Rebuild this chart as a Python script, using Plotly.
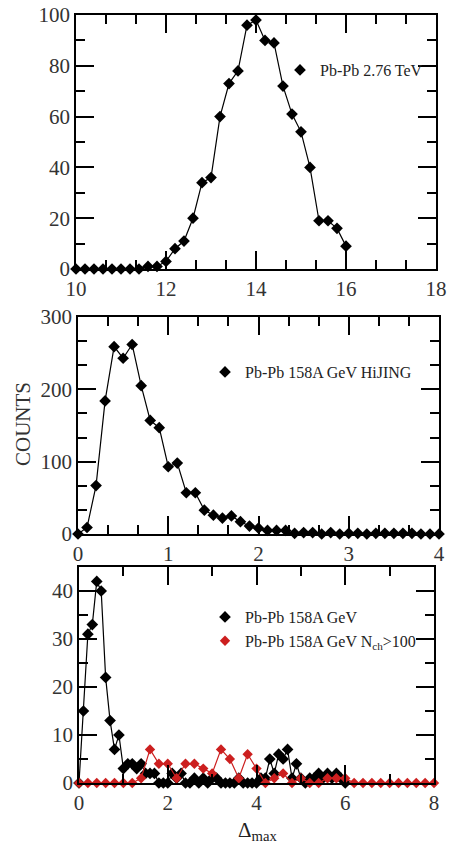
import plotly.graph_objects as go

# ---------------- data ----------------
# Panel 1: Pb-Pb 2.76 TeV
p1_x = [10.0, 10.2, 10.4, 10.6, 10.8, 11.0, 11.2, 11.4, 11.6, 11.8,
        12.0, 12.2, 12.4, 12.6, 12.8, 13.0, 13.2, 13.4, 13.6, 13.8,
        14.0, 14.2, 14.4, 14.6, 14.8, 15.0, 15.2, 15.4, 15.6, 15.8, 16.0]
p1_y = [0, 0, 0, 0, 0, 0, 0, 0, 1, 1,
        3, 8, 11, 20, 34, 36, 60, 73, 78, 96,
        98, 90, 89, 72, 61, 54, 40, 19, 19, 16, 9]

# Panel 2: Pb-Pb 158A GeV HIJING
p2_x = [0.0, 0.1, 0.2, 0.3, 0.4, 0.5, 0.6, 0.7, 0.8, 0.9,
        1.0, 1.1, 1.2, 1.3, 1.4, 1.5, 1.6, 1.7, 1.8, 1.9,
        2.0, 2.1, 2.2, 2.3, 2.4, 2.5, 2.6, 2.7, 2.8, 2.9,
        3.0, 3.1, 3.2, 3.3, 3.4, 3.5, 3.6, 3.7, 3.8, 3.9, 4.0]
p2_y = [0, 9, 67, 184, 259, 243, 262, 205, 157, 147,
        93, 98, 57, 57, 33, 26, 22, 25, 17, 11,
        8, 5, 5, 5, 1, 2, 2, 0, 2, 0,
        1, 1, 0, 1, 1, 1, 1, 1, 0, 0, 0]

# Panel 3: Pb-Pb 158A GeV (black)
p3a_x = [0.0, 0.1, 0.2, 0.3, 0.4, 0.5, 0.6, 0.7, 0.8, 0.9,
         1.0, 1.1, 1.2, 1.3, 1.4, 1.5, 1.6, 1.7, 1.8, 1.9,
         2.0, 2.1, 2.2, 2.3, 2.4, 2.5, 2.6, 2.7, 2.8, 2.9,
         3.0, 3.1, 3.2, 3.3, 3.4, 3.5, 3.6, 3.7, 3.8, 3.9,
         4.0, 4.1, 4.2, 4.3, 4.4, 4.5, 4.6, 4.7, 4.8, 4.9,
         5.0, 5.1, 5.2, 5.3, 5.4, 5.5, 5.6, 5.7, 5.8, 5.9, 6.0]
p3a_y = [0, 15, 31, 33, 42, 40, 22, 13, 7, 10,
         3, 4, 4, 3, 4, 2, 2, 2, 0, 0,
         0, 2, 1, 2, 0, 0, 1, 0, 1, 0,
         1, 1, 0, 0, 0, 0, 1, 0, 0, 0,
         0, 1, 1, 5, 2, 6, 5, 7, 1, 4,
         1, 0, 1, 1, 2, 1, 2, 1, 2, 1, 0]

# Panel 3: Pb-Pb 158A GeV Nch>100 (red)
p3b_x = [0.0, 0.2, 0.4, 0.6, 0.8, 1.0, 1.2, 1.4, 1.6, 1.8,
         2.0, 2.2, 2.4, 2.6, 2.8, 3.0, 3.2, 3.4, 3.6, 3.8,
         4.0, 4.2, 4.4, 4.6, 4.8, 5.0, 5.2, 5.4, 5.6, 5.8,
         6.0, 6.2, 6.4, 6.6, 6.8, 7.0, 7.2, 7.4, 7.6, 7.8, 8.0]
p3b_y = [0, 0, 0, 0, 0, 0, 0, 1, 7, 4,
         4, 1, 4, 4, 3, 2, 7, 5, 1, 6,
         3, 0, 1, 2, 0, 1, 0, 0, 1, 1,
         1, 0, 0, 0, 0, 0, 0, 0, 0, 0, 0]

names = ["Pb-Pb 2.76 TeV", "Pb-Pb 158A GeV HiJING",
         "Pb-Pb 158A GeV", "Pb-Pb 158A GeV N<sub>ch</sub>&gt;100"]

FONT = "Liberation Serif"
BLACK = "#000000"
RED = "#cc1f1f"
W, H = 452, 843

def px_x(p):
    return p / W

def px_y(p):
    return 1 - p / H

fig = go.Figure()

def series(x, y, color, xa, ya, msize=9):
    fig.add_trace(go.Scatter(
        x=x, y=y, mode="lines+markers", xaxis=xa, yaxis=ya,
        line=dict(color=color, width=1.2),
        marker=dict(symbol="diamond", size=msize, color=color),
        showlegend=False, cliponaxis=False, hoverinfo="skip"))

def legend_entry(name, color, legend, xa, ya, msize=9):
    fig.add_trace(go.Scatter(
        x=[None], y=[None], mode="markers", xaxis=xa, yaxis=ya,
        marker=dict(symbol="diamond", size=msize, color=color),
        name=name, legend=legend, showlegend=True))

series(p1_x, p1_y, BLACK, "x", "y")
legend_entry(names[0], BLACK, "legend", "x", "y")
series(p2_x, p2_y, BLACK, "x2", "y2")
legend_entry(names[1], BLACK, "legend2", "x2", "y2")
series(p3a_x, p3a_y, BLACK, "x3", "y3")
series(p3b_x, p3b_y, RED, "x3", "y3", msize=8)
legend_entry(names[2], BLACK, "legend3", "x3", "y3")
legend_entry(names[3], RED, "legend3", "x3", "y3", msize=8)

common = dict(showline=True, linecolor="black", linewidth=1.6, mirror="ticks",
              ticks="inside", ticklen=18, tickwidth=1.5, tickcolor="black",
              showgrid=False, zeroline=False, fixedrange=True, automargin=False,
              tickfont=dict(family=FONT, size=21, color="#333333"))

def minor(dt, t0):
    return dict(dtick=dt, tick0=t0, ticks="inside", ticklen=9, tickwidth=1.5,
                tickcolor="black", showgrid=False)

LEGFONT = dict(family=FONT, size=16, color="#222222")

fig.update_layout(
    template="none",
    width=W, height=H, autosize=False,
    margin=dict(l=0, r=0, t=0, b=0, pad=0),
    paper_bgcolor="white", plot_bgcolor="white",
    xaxis=dict(common, domain=[px_x(76), px_x(436)], anchor="y",
               range=[10, 18], dtick=2, tick0=10, minor=minor(2 / 3, 10)),
    yaxis=dict(common, domain=[px_y(269), px_y(15)], anchor="x",
               range=[0, 100], dtick=20, tick0=0, minor=minor(10, 0)),
    xaxis2=dict(common, domain=[px_x(78), px_x(439)], anchor="y2",
                range=[0, 4], dtick=1, tick0=0, minor=minor(1 / 3, 0)),
    yaxis2=dict(common, domain=[px_y(534), px_y(317)], anchor="x2",
                range=[0, 300], dtick=100, tick0=0, minor=minor(100 / 3, 0)),
    xaxis3=dict(common, domain=[px_x(79), px_x(434)], anchor="y3",
                range=[0, 8], dtick=2, tick0=0, minor=minor(1, 0)),
    yaxis3=dict(common, domain=[px_y(783), px_y(567)], anchor="x3",
                range=[0, 45], dtick=10, tick0=0, minor=minor(5, 0)),
    legend=dict(x=px_x(280), y=px_y(70), xanchor="left", yanchor="middle",
                bgcolor="rgba(0,0,0,0)", itemwidth=30, borderwidth=0,
                font=LEGFONT),
    legend2=dict(x=px_x(205), y=px_y(372), xanchor="left", yanchor="middle",
                 bgcolor="rgba(0,0,0,0)", itemwidth=30, borderwidth=0,
                 font=LEGFONT),
    legend3=dict(x=px_x(205), y=px_y(629), xanchor="left", yanchor="middle",
                 bgcolor="rgba(0,0,0,0)", itemwidth=30, borderwidth=0,
                 font=LEGFONT),
    annotations=[
        dict(text="COUNTS", textangle=-90, x=px_x(23), y=px_y(424),
             xanchor="center", yanchor="middle",
             xref="paper", yref="paper", showarrow=False,
             font=dict(family=FONT, size=21, color="#333333")),
        dict(text="Δ<sub>max</sub>", x=px_x(257), y=px_y(816),
             xanchor="center", yanchor="top",
             xref="paper", yref="paper", showarrow=False,
             font=dict(family=FONT, size=21, color="#222222")),
    ],
)

fig.write_html("out.html",
               config={"displayModeBar": False},
               post_script="document.body.style.margin='0';"
                           "document.body.style.overflow='hidden';")
